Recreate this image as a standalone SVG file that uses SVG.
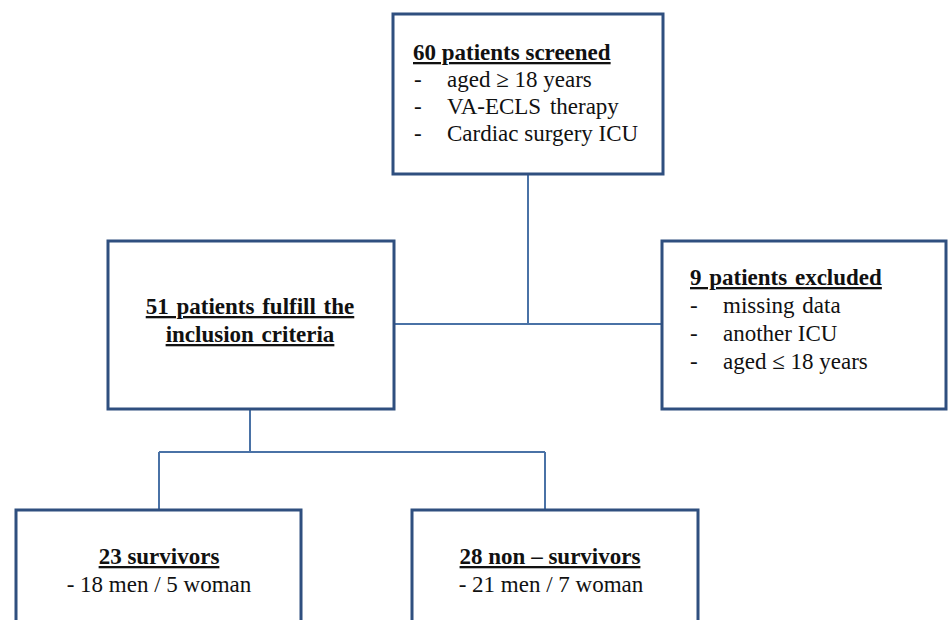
<svg xmlns="http://www.w3.org/2000/svg" width="948" height="620" viewBox="0 0 948 620">
<style>
.box{fill:#fff;stroke:#2f4f7f;stroke-width:3}
.con{fill:none;stroke:#4a72a6;stroke-width:2}
text{font-family:"Liberation Serif","Times New Roman",serif;font-size:23px;fill:#111}
.t{font-weight:bold;text-decoration:underline}
.m{text-anchor:middle}
</style>
<rect width="948" height="620" fill="#fff"/>
<g id="connectors">
<path class="con" d="M528 174V324M395 324H662"/>
<path class="con" d="M250 409V452M159 452H545M159 452V510M545 452V510"/>
</g>
<g id="screened">
<rect class="box" x="393" y="14" width="270" height="160"/>
<text class="t" x="413" y="60">60 patients screened</text>
<text x="414" y="87">-</text><text x="447" y="87">aged ≥ 18 years</text>
<text x="414" y="114">-</text><text x="447" y="114" word-spacing="3">VA-ECLS therapy</text>
<text x="414" y="141">-</text><text x="447" y="141">Cardiac surgery ICU</text>
</g>
<g id="included">
<rect class="box" x="108" y="241" width="286" height="168"/>
<text class="t m" x="250" y="314" word-spacing="2">51 patients fulfill the</text>
<text class="t m" x="250" y="342" word-spacing="2">inclusion criteria</text>
</g>
<g id="excluded">
<rect class="box" x="662" y="241" width="284" height="168"/>
<text class="t" x="690" y="285" word-spacing="2">9 patients excluded</text>
<text x="690" y="313">-</text><text x="723" y="313" word-spacing="2">missing data</text>
<text x="690" y="341">-</text><text x="723" y="341">another ICU</text>
<text x="690" y="369">-</text><text x="723" y="369">aged ≤ 18 years</text>
</g>
<g id="survivors">
<rect class="box" x="16" y="510" width="285" height="130"/>
<text class="t m" x="159" y="564">23 survivors</text>
<text class="m" x="159" y="592">- 18 men / 5 woman</text>
</g>
<g id="nonsurvivors">
<rect class="box" x="412" y="510" width="286" height="130"/>
<text class="t m" x="550" y="564">28 non – survivors</text>
<text class="m" x="551" y="592">- 21 men / 7 woman</text>
</g>
</svg>
